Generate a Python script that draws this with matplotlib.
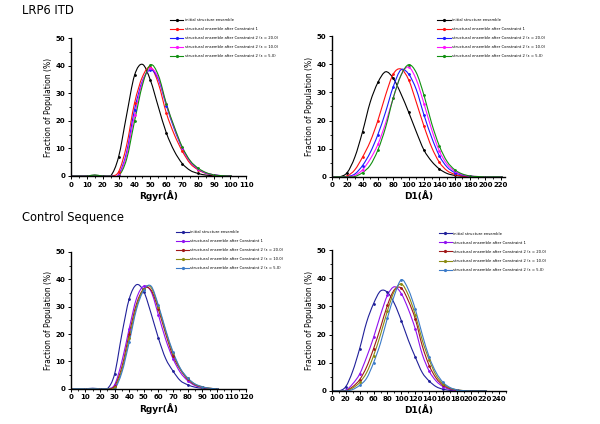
import numpy as np
import matplotlib.pyplot as plt
from matplotlib.ticker import MultipleLocator
from matplotlib.path import Path
from matplotlib.patches import PathPatch
from matplotlib.lines import Line2D

# ---- data ----
rg_x = list(range(0, 105, 5))      # Rgyr grid, 0..100
d1_x = list(range(0, 230, 10))     # D1 grid, 0..220

labels_top = ["initial structure ensemble",
              "structural ensemble after Constraint 1",
              "structural ensemble after Constraint 2 (\u03b5 = 20.0)",
              "structural ensemble after Constraint 2 (\u03b5 = 10.0)",
              "structural ensemble after Constraint 2 (\u03b5 = 5.0)"]
labels_bot = labels_top

colors_top = ["black", "#ff1010", "#1a1aff", "#ff10ff", "#109010"]
colors_bot = ["#20209a", "#9010f0", "#a01818", "#8a8a10", "#3a7ac8"]

# LRP6 ITD, Rgyr
lrp_rg_init = [0, 0, 0, 0.3, 0, 0, 6.9, 22, 36.5, 40.5, 34.7, 25, 15.6, 9, 4.5, 2, 0.9, 0.3, 0.1, 0, 0]
lrp_rg_c1   = [0, 0, 0, 0, 0, 0, 1.5, 11, 26.4, 36, 39.5, 33.5, 22.8, 15, 9, 4.5, 2.2, 0.9, 0.3, 0.1, 0]
lrp_rg_e20  = [0, 0, 0, 0, 0, 0, 0.5, 8.5, 24, 34.5, 38.5, 35, 25.5, 17, 10, 5.2, 2.5, 1, 0.4, 0.1, 0]
lrp_rg_e10  = [0, 0, 0, 0, 0, 0, 0.3, 7.5, 22, 34, 39, 35.5, 26, 17.5, 10.2, 5.3, 2.6, 1.1, 0.4, 0.1, 0]
lrp_rg_e5   = [0, 0, 0, 0.3, 0, 0, 0, 6, 19.8, 33, 40.3, 36.5, 26.2, 17.8, 10.5, 5.5, 2.8, 1.2, 0.4, 0.1, 0]

# LRP6 ITD, D1
lrp_d1_init = [0, 0, 1.5, 7, 16, 26.5, 33.5, 37.3, 35, 29.5, 23, 16, 9.5, 5.5, 2.8, 1.2, 0.5, 0.2, 0.05, 0, 0, 0, 0]
lrp_d1_c1   = [0, 0, 0.3, 2.5, 7, 12.5, 20, 29, 36.5, 38.3, 34.5, 26.5, 18, 10.5, 5.2, 2.2, 0.9, 0.3, 0.1, 0, 0, 0, 0]
lrp_d1_e20  = [0, 0, 0.1, 1, 4, 8.6, 15, 23, 32, 38, 36.5, 31, 22, 14, 7.5, 3.5, 1.5, 0.6, 0.2, 0.05, 0, 0, 0]
lrp_d1_e10  = [0, 0, 0, 0.5, 2.5, 6.3, 11.5, 19, 28, 36, 39, 34.5, 26, 16.8, 9.2, 4.5, 2, 0.8, 0.3, 0.1, 0, 0, 0]
lrp_d1_e5   = [0, 0, 0, 0.1, 1.5, 4.1, 9.5, 17.5, 28, 36, 39.8, 37, 29, 19, 11, 5.5, 2.5, 1, 0.3, 0.1, 0, 0, 0]

# Control sequence, Rgyr
ctl_rg_init = [0, 0, 0, 0.2, 0, 0, 5.4, 20, 32.8, 38, 35.5, 27.5, 18.5, 11, 6.5, 3, 1.5, 0.6, 0.2, 0.05, 0]
ctl_rg_c1   = [0, 0, 0, 0, 0, 0, 1.5, 10, 22, 33, 37.5, 35.5, 27, 18, 11, 6, 3, 1.2, 0.5, 0.1, 0]
ctl_rg_e20  = [0, 0, 0, 0, 0, 0, 1, 8, 20, 31, 36.5, 36, 29, 20, 12, 7, 3.5, 1.5, 0.6, 0.2, 0]
ctl_rg_e10  = [0, 0, 0, 0, 0, 0, 0.5, 7, 18.5, 30, 36.5, 37, 30, 21, 13, 7.3, 3.8, 1.7, 0.7, 0.2, 0]
ctl_rg_e5   = [0, 0, 0, 0, 0, 0, 0, 6, 17, 29, 36, 37.5, 30.5, 21.5, 13.5, 7.5, 4, 1.8, 0.8, 0.2, 0]

# Control sequence, D1
ctl_d1_init = [0, 0, 1.5, 7, 15, 24.4, 31, 35.5, 35, 31, 24.9, 18, 12, 6.5, 3.5, 1.5, 0.6, 0.2, 0, 0, 0, 0, 0]
ctl_d1_c1   = [0, 0, 0.2, 2.5, 6, 12, 19, 27, 34, 37, 34.5, 29, 22, 13, 7, 3.5, 1.5, 0.5, 0.2, 0, 0, 0, 0]
ctl_d1_e20  = [0, 0, 0.1, 1.5, 4, 8.5, 15, 22.5, 30.5, 36, 36.5, 32, 25.5, 16, 9, 4.5, 2, 0.8, 0.3, 0.1, 0, 0, 0]
ctl_d1_e10  = [0, 0, 0, 1, 3, 6.5, 12.5, 20, 28.5, 35.5, 38, 34, 27, 18, 11, 5.5, 2.5, 1, 0.4, 0.1, 0, 0, 0]
ctl_d1_e5   = [0, 0, 0, 0.5, 2, 4.5, 10, 17, 26, 34, 39.5, 36, 29, 20, 12, 6.5, 3, 1.2, 0.4, 0.1, 0, 0, 0]


def spline_path(xs, ys):
    # Origin-style "spline" connector: cubic Bezier segments through the points
    pts = np.column_stack([xs, ys]).astype(float)
    verts = [pts[0]]
    codes = [Path.MOVETO]
    n = len(pts)
    for i in range(n - 1):
        p0 = pts[i - 1] if i > 0 else pts[i]
        p1, p2 = pts[i], pts[i + 1]
        p3 = pts[i + 2] if i + 2 < n else pts[i + 1]
        verts += [p1 + (p2 - p0) / 6, p2 - (p3 - p1) / 6, p2]
        codes += [Path.CURVE4] * 3
    return Path(verts, codes)


panels = [
    ([0.118, 0.585, 0.292, 0.325], rg_x,
     [lrp_rg_init, lrp_rg_c1, lrp_rg_e20, lrp_rg_e10, lrp_rg_e5],
     colors_top, labels_top, 110, "Rgyr(\u00c5)", 10, 5, (0.280, 0.962)),
    ([0.553, 0.583, 0.288, 0.332], d1_x,
     [lrp_d1_init, lrp_d1_c1, lrp_d1_e20, lrp_d1_e10, lrp_d1_e5],
     colors_top, labels_top, 225, "D1(\u00c5)", 20, 10, (0.726, 0.962)),
    ([0.118, 0.083, 0.292, 0.323], rg_x,
     [ctl_rg_init, ctl_rg_c1, ctl_rg_e20, ctl_rg_e10, ctl_rg_e5],
     colors_bot, labels_bot, 120, "Rgyr(\u00c5)", 10, 5, (0.290, 0.462)),
    ([0.553, 0.078, 0.290, 0.332], d1_x,
     [ctl_d1_init, ctl_d1_c1, ctl_d1_e20, ctl_d1_e10, ctl_d1_e5],
     colors_bot, labels_bot, 250, "D1(\u00c5)", 20, 10, (0.728, 0.458)),
]

fig = plt.figure(figsize=(6, 4.24), dpi=100)

for rect, xs, series, cols, labs, xmax, xlab, xmaj, xmin, anchor in panels:
    ax = fig.add_axes(rect)
    handles = []
    for ys, c, lab in zip(series, cols, labs):
        ax.add_patch(PathPatch(spline_path(xs, ys), facecolor='none',
                               edgecolor=c, lw=0.8))
        ax.plot(xs, ys, ls='none', color=c, marker='o', ms=1.0, markevery=2)
        handles.append(Line2D([], [], color=c, lw=0.8, marker='o', ms=1.3, label=lab))
    ax.set_xlim(0, xmax)
    ax.set_ylim(0, 50)
    ax.xaxis.set_major_locator(MultipleLocator(xmaj))
    ax.xaxis.set_minor_locator(MultipleLocator(xmin))
    ax.yaxis.set_major_locator(MultipleLocator(10))
    ax.yaxis.set_minor_locator(MultipleLocator(5))
    for s in ['top', 'right']:
        ax.spines[s].set_visible(False)
    for s in ['left', 'bottom']:
        ax.spines[s].set_linewidth(1.0)
    ax.tick_params(which='major', direction='out', length=2.5, width=0.7,
                   labelsize=5, pad=1.5)
    ax.tick_params(which='minor', direction='out', length=1.5, width=0.6)
    for t in ax.get_xticklabels() + ax.get_yticklabels():
        t.set_fontweight('bold')
    ax.set_xlabel(xlab, fontsize=6.5, fontweight='bold', labelpad=2)
    ax.set_ylabel("Fraction of Population (%)", fontsize=5.5, labelpad=2)
    fig.legend(handles=handles, loc='upper left', bbox_to_anchor=anchor,
               fontsize=2.7, frameon=False, numpoints=1, handlelength=3.6,
               handletextpad=0.3, labelspacing=1.35, borderpad=0)

fig.text(0.037, 0.975, "LRP6 ITD", fontsize=8.3, va='center', ha='left')
fig.text(0.037, 0.488, "Control Sequence", fontsize=8.3, va='center', ha='left')

plt.savefig('out.png', dpi=100)
